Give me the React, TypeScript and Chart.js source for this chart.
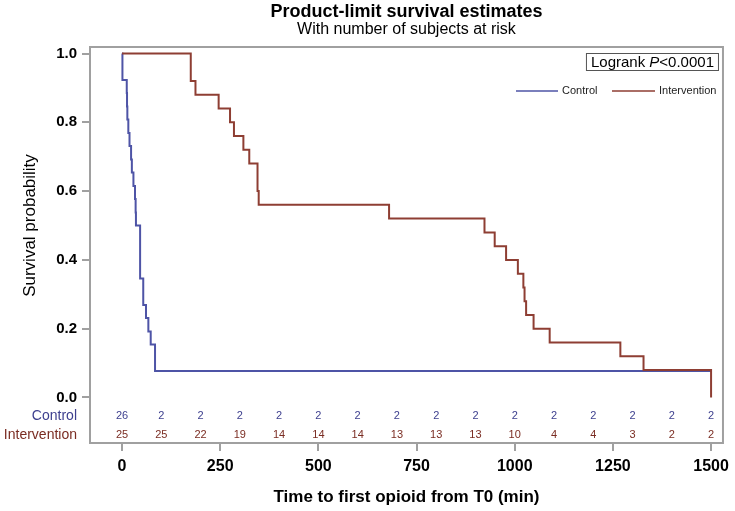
import React, { useEffect, useRef } from "react";
import { Chart, registerables } from "chart.js";

Chart.register(...registerables);

// ---- Data ----
const controlTimes = [0, 1, 12, 12.7, 13.5, 16, 19, 23, 25, 29, 33, 34.6, 35.4, 46, 54, 61, 67, 73, 84, 1500];
const controlSurvival = [1, 0.923, 0.885, 0.846, 0.808, 0.769, 0.731, 0.692, 0.654, 0.615, 0.577, 0.538, 0.5, 0.346, 0.269, 0.231, 0.192, 0.154, 0.077, 0.077];

const interventionTimes = [0, 175, 187, 246, 275, 285, 309, 324, 345, 348, 680, 923, 949, 978, 1008, 1022, 1025, 1029, 1048, 1089, 1269, 1328, 1500];
const interventionSurvival = [1, 0.92, 0.88, 0.84, 0.8, 0.76, 0.72, 0.68, 0.6, 0.56, 0.52, 0.48, 0.44, 0.4, 0.36, 0.32, 0.28, 0.24, 0.2, 0.16, 0.12, 0.08, 0];

const riskTimes = [0, 100, 200, 300, 400, 500, 600, 700, 800, 900, 1000, 1100, 1200, 1300, 1400, 1500];
const controlAtRisk = [26, 2, 2, 2, 2, 2, 2, 2, 2, 2, 2, 2, 2, 2, 2, 2];
const interventionAtRisk = [25, 25, 22, 19, 14, 14, 14, 13, 13, 13, 10, 4, 4, 3, 2, 2];

const xTicks = [0, 250, 500, 750, 1000, 1250, 1500];
const yTicks = [0, 0.2, 0.4, 0.6, 0.8, 1.0];

const seriesNames = ["Control", "Intervention"];
const titleText = "Product-limit survival estimates";
const subtitleText = "With number of subjects at risk";
const xTitle = "Time to first opioid from T0 (min)";
const yTitle = "Survival probability";

// ---- Styles ----
const FONT = "'Liberation Sans', Arial, sans-serif";
const BLUE = "#4e54a6";
const RED = "#8e3e33";
const BLUE_TXT = "#3d3f8e";
const RED_TXT = "#7a2c22";
const FRAME = "#a0a0a0";

const decorPlugin = {
  id: "decor",
  beforeDatasetsDraw(chart: any) {
    const { ctx, chartArea: a } = chart;
    ctx.save();
    ctx.strokeStyle = FRAME;
    ctx.lineWidth = 2;
    ctx.strokeRect(a.left, a.top, a.right - a.left, a.bottom - a.top);
    ctx.restore();
  },
  afterDraw(chart: any) {
    const { ctx, chartArea: a, scales } = chart;
    const xs = scales.x;
    const ys = scales.y;
    const cx = (a.left + a.right) / 2;
    ctx.save();

    // titles
    ctx.fillStyle = "#000";
    ctx.textAlign = "center";
    ctx.textBaseline = "middle";
    ctx.font = `bold 18px ${FONT}`;
    ctx.fillText(titleText, cx, 12);
    ctx.font = `16px ${FONT}`;
    ctx.fillText(subtitleText, cx, 30);

    // y title
    ctx.save();
    ctx.translate(30, ys.getPixelForValue(0.5));
    ctx.rotate(-Math.PI / 2);
    ctx.font = `17px ${FONT}`;
    ctx.fillText(yTitle, 0, 0);
    ctx.restore();

    // x title
    ctx.font = `bold 17px ${FONT}`;
    ctx.fillText(xTitle, cx, 497);

    // risk table
    const rowY = [a.bottom - 27, a.bottom - 8];
    const rows = [controlAtRisk, interventionAtRisk];
    const txtCols = [BLUE_TXT, RED_TXT];
    rows.forEach((vals, r) => {
      ctx.fillStyle = txtCols[r];
      ctx.font = `11px ${FONT}`;
      ctx.textAlign = "center";
      riskTimes.forEach((t, i) => {
        ctx.fillText(String(vals[i]), xs.getPixelForValue(t), rowY[r]);
      });
      ctx.font = `14px ${FONT}`;
      ctx.textAlign = "right";
      ctx.fillText(seriesNames[r], a.left - 13, rowY[r]);
    });

    // logrank box
    ctx.font = `15px ${FONT}`;
    const p1 = "Logrank ";
    const p3 = "<0.0001";
    const w1 = ctx.measureText(p1).width;
    const w3 = ctx.measureText(p3).width;
    ctx.font = `italic 15px ${FONT}`;
    const w2 = ctx.measureText("P").width;
    const boxR = a.right - 4;
    const boxW = w1 + w2 + w3 + 10;
    const boxL = boxR - boxW;
    ctx.fillStyle = "#fff";
    ctx.fillRect(boxL, 53, boxW, 18);
    ctx.strokeStyle = "#555";
    ctx.lineWidth = 1;
    ctx.strokeRect(boxL + 0.5, 53.5, boxW - 1, 17);
    ctx.fillStyle = "#000";
    ctx.textAlign = "left";
    let tx = boxL + 5;
    ctx.font = `15px ${FONT}`;
    ctx.fillText(p1, tx, 62.5);
    tx += w1;
    ctx.font = `italic 15px ${FONT}`;
    ctx.fillText("P", tx, 62.5);
    tx += w2;
    ctx.font = `15px ${FONT}`;
    ctx.fillText(p3, tx, 62.5);

    // legend entries
    const ly = 91;
    ctx.font = `11px ${FONT}`;
    ctx.lineWidth = 1.5;
    ctx.strokeStyle = BLUE;
    ctx.beginPath();
    ctx.moveTo(516, ly);
    ctx.lineTo(558, ly);
    ctx.stroke();
    ctx.fillStyle = "#222";
    ctx.fillText(seriesNames[0], 562, ly);
    ctx.strokeStyle = RED;
    ctx.beginPath();
    ctx.moveTo(612, ly);
    ctx.lineTo(655, ly);
    ctx.stroke();
    ctx.fillText(seriesNames[1], 659, ly);

    ctx.restore();
  },
};

export default function App() {
  const ref = useRef<HTMLCanvasElement>(null);

  useEffect(() => {
    const canvas = ref.current;
    if (!canvas) return;
    const chart = new Chart(canvas, {
      type: "line",
      data: {
        datasets: [
          {
            label: seriesNames[1],
            data: interventionTimes.map((t, i) => ({ x: t, y: interventionSurvival[i] })),
            borderColor: RED,
            borderWidth: 2,
            pointRadius: 0,
            stepped: "before",
            fill: false,
            order: 0,
          },
          {
            label: seriesNames[0],
            data: controlTimes.map((t, i) => ({ x: t, y: controlSurvival[i] })),
            borderColor: BLUE,
            borderWidth: 2,
            pointRadius: 0,
            stepped: "before",
            fill: false,
            order: 1,
          },
        ],
      },
      options: {
        responsive: false,
        animation: false,
        devicePixelRatio: 1,
        layout: { padding: { top: 47, right: 7, left: 0, bottom: 0 } },
        plugins: {
          legend: { display: false },
          tooltip: { enabled: false },
          title: { display: false },
        },
        scales: {
          x: {
            type: "linear",
            min: -81.6,
            max: 1530.3,
            afterBuildTicks: (s: any) => {
              s.ticks = xTicks.map((v) => ({ value: v }));
            },
            afterFit: (s: any) => {
              s.height = 68;
            },
            border: { display: false },
            grid: {
              display: true,
              drawOnChartArea: false,
              drawTicks: true,
              tickLength: 8,
              color: FRAME,
              lineWidth: 2,
            },
            ticks: {
              color: "#000",
              font: { family: FONT, size: 16, weight: "bold" },
              padding: 6,
              maxRotation: 0,
              autoSkip: false,
              callback: (v: any) => String(v),
            },
          },
          y: {
            type: "linear",
            min: -0.1323,
            max: 1.0189,
            afterBuildTicks: (s: any) => {
              s.ticks = yTicks.map((v) => ({ value: v }));
            },
            afterFit: (s: any) => {
              s.width = 90;
            },
            border: { display: false },
            grid: {
              display: true,
              drawOnChartArea: false,
              drawTicks: true,
              tickLength: 8,
              color: FRAME,
              lineWidth: 2,
            },
            ticks: {
              color: "#000",
              font: { family: FONT, size: 15, weight: "bold" },
              padding: 5,
              autoSkip: false,
              callback: (v: any) => Number(v).toFixed(1),
            },
          },
        },
      } as any,
      plugins: [decorPlugin],
    });
    return () => chart.destroy();
  }, []);

  return (
    <div style={{ position: "absolute", left: 0, top: 0, width: 735, height: 511, background: "#fff" }}>
      <canvas ref={ref} width={735} height={511} style={{ display: "block", width: 735, height: 511 }} />
    </div>
  );
}
